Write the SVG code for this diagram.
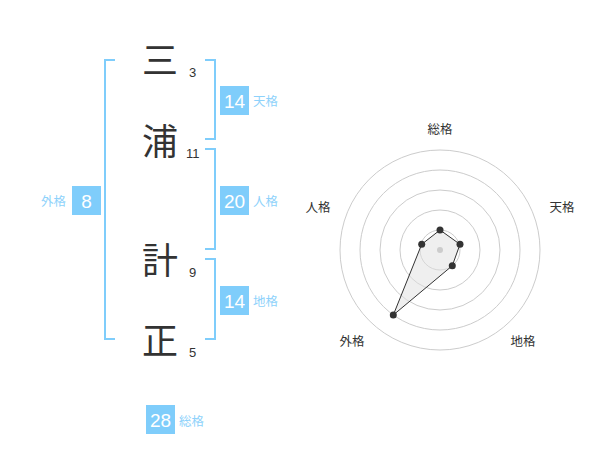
<svg xmlns="http://www.w3.org/2000/svg" width="600" height="470" viewBox="0 0 600 470">
<style>
.kanji{font-family:"Noto Sans CJK JP","Noto Sans CJK SC",sans-serif;font-size:36px;fill:#333;text-anchor:middle}
.num{font-family:"Liberation Sans",Arial,sans-serif;font-size:13px;fill:#333}
.br{fill:none;stroke:#7fcdfb;stroke-width:2}
.box{fill:#7fcdfb}
.bn{font-family:"Liberation Sans",Arial,sans-serif;font-size:19px;fill:#fff;text-anchor:middle}
.bl{font-family:"Noto Sans CJK JP","Noto Sans CJK SC",sans-serif;font-size:12.5px;fill:#8ed2fb}
.rl{font-family:"Noto Sans CJK JP","Noto Sans CJK SC",sans-serif;font-size:12.5px;fill:#333;text-anchor:middle}
.ring{fill:none;stroke:#ccc;stroke-width:1}
.pt{fill:#333}
</style>
<rect width="600" height="470" fill="#fff"/>
<g id="connectors">
<path class="br" d="M115,60 H105 V339 H115"/>
<path class="br" d="M205,60 H215 V139 H205"/>
<path class="br" d="M205,149 H215 V249 H205"/>
<path class="br" d="M205,259 H215 V339 H205"/>
</g>
<g id="char-1"><text class="kanji" x="160" y="74">三</text><text class="num" x="189" y="77">3</text></g>
<g id="char-2"><text class="kanji" x="160" y="155">浦</text><text class="num" x="186" y="158">11</text></g>
<g id="char-3"><text class="kanji" x="160" y="274">計</text><text class="num" x="189" y="277">9</text></g>
<g id="char-4"><text class="kanji" x="160" y="354">正</text><text class="num" x="189" y="357">5</text></g>
<g id="tenkaku"><rect class="box" x="220" y="86" width="29" height="29"/><text class="bn" x="234.5" y="107.5">14</text><text class="bl" x="253" y="106">天格</text></g>
<g id="jinkaku"><rect class="box" x="220" y="186" width="29" height="29"/><text class="bn" x="234.5" y="207.5">20</text><text class="bl" x="253" y="206">人格</text></g>
<g id="chikaku"><rect class="box" x="220" y="286" width="29" height="29"/><text class="bn" x="234.5" y="307.5">14</text><text class="bl" x="253" y="306">地格</text></g>
<g id="gaikaku"><rect class="box" x="72" y="186" width="29" height="29"/><text class="bn" x="86.5" y="207.5">8</text><text class="bl" x="66" y="206" text-anchor="end">外格</text></g>
<g id="soukaku"><rect class="box" x="146" y="405" width="29" height="29"/><text class="bn" x="160.5" y="426.5">28</text><text class="bl" x="179" y="426">総格</text></g>
<g id="radar">
<circle class="ring" cx="440" cy="250" r="20"/>
<circle class="ring" cx="440" cy="250" r="40"/>
<circle class="ring" cx="440" cy="250" r="60"/>
<circle class="ring" cx="440" cy="250" r="80"/>
<circle class="ring" cx="440" cy="250" r="100"/>
<polygon points="440,230 460,244.3 452.3,265.7 393.3,315 421.7,244.3" fill="#e0e0e0" fill-opacity="0.5" stroke="#333" stroke-width="1"/>
<circle cx="440" cy="250" r="3" fill="#ccc"/>
<circle class="pt" cx="440" cy="230" r="3.5"/>
<circle class="pt" cx="460" cy="244.3" r="3.5"/>
<circle class="pt" cx="452.3" cy="265.7" r="3.5"/>
<circle class="pt" cx="393.3" cy="315" r="3.5"/>
<circle class="pt" cx="421.7" cy="244.3" r="3.5"/>
<text class="rl" x="440" y="134">総格</text>
<text class="rl" x="562" y="212">天格</text>
<text class="rl" x="523" y="346">地格</text>
<text class="rl" x="352" y="346">外格</text>
<text class="rl" x="318" y="212">人格</text>
</g>
</svg>
